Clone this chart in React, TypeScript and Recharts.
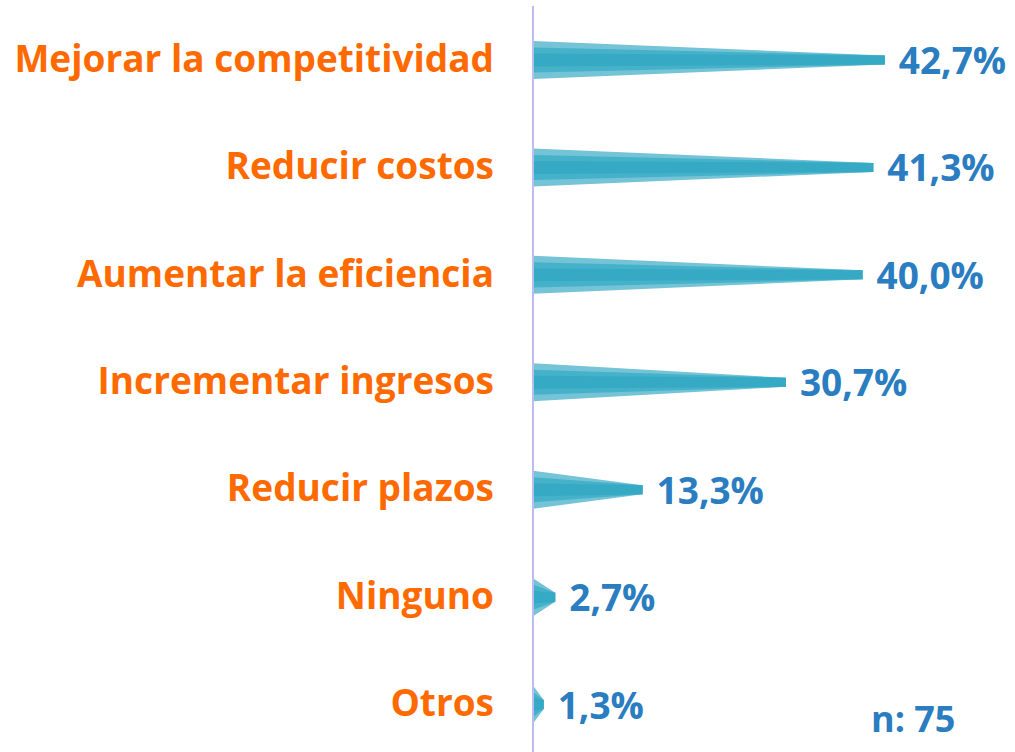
import { BarChart, Bar, XAxis, YAxis, LabelList } from 'recharts';

const categories = [
  'Mejorar la competitividad',
  'Reducir costos',
  'Aumentar la eficiencia',
  'Incrementar ingresos',
  'Reducir plazos',
  'Ninguno',
  'Otros',
];
const values = [42.7, 41.3, 40.0, 30.7, 13.3, 2.7, 1.3];
const sampleNote = 'n: 75';

const data = categories.map((name, i) => ({ name, value: values[i] }));

const FONT = '"Open Sans", sans-serif';
const ORANGE = '#ff6a00';
const BLUE = '#2a7dc0';

const fmt = (v: number) => v.toFixed(1).replace('.', ',') + '%';

// tapered spike with three shaded layers
const Spike = (props: any) => {
  const { x, y, width, height } = props;
  const cy = y + height / 2;
  const tip = 4.5;
  const w = Math.max(width, 0);
  const layer = (half: number, fill: string) => (
    <polygon
      points={`${x},${cy - half} ${x + w},${cy - tip} ${x + w},${cy + tip} ${x},${cy + half}`}
      fill={fill}
    />
  );
  return (
    <g>
      {layer(height / 2, '#74c3d6')}
      {layer(height * 0.33, '#45b2ca')}
      {layer(height * 0.17, '#36aac4')}
    </g>
  );
};

const CategoryTick = (props: any) => {
  const { x, y, payload } = props;
  return (
    <text
      x={x}
      y={y + 12}
      textAnchor="end"
      fill={ORANGE}
      fontFamily={FONT}
      fontWeight={700}
      fontSize={37}
    >
      {payload.value}
    </text>
  );
};

const ValueLabel = (props: any) => {
  const { x, y, width, height, value } = props;
  return (
    <text
      x={x + width + 14}
      y={y + height / 2 + 14}
      fill={BLUE}
      fontFamily={FONT}
      fontWeight={700}
      fontSize={37}
    >
      {fmt(value)}
    </text>
  );
};

export default function App() {
  return (
    <div
      style={{
        position: 'absolute',
        left: 0,
        top: 0,
        width: 1015,
        height: 752,
        overflow: 'hidden',
        background: '#ffffff',
      }}
    >
      <BarChart
        width={1015}
        height={758}
        data={data}
        layout="vertical"
        margin={{ top: 6, right: 0, bottom: 0, left: 0 }}
        barCategoryGap={0}
      >
        <XAxis type="number" domain={[0, 58.5]} hide />
        <YAxis
          type="category"
          dataKey="name"
          width={533}
          axisLine={{ stroke: '#bcbcf0', strokeWidth: 2 }}
          tickLine={false}
          tickMargin={33}
          tick={<CategoryTick />}
          interval={0}
        />
        <Bar dataKey="value" barSize={38} shape={<Spike />} isAnimationActive={false}>
          <LabelList dataKey="value" content={<ValueLabel />} />
        </Bar>
      </BarChart>
      <div
        style={{
          position: 'absolute',
          left: 871,
          top: 694,
          fontFamily: FONT,
          fontWeight: 700,
          fontSize: 36,
          color: BLUE,
          lineHeight: '50px',
        }}
      >
        {sampleNote}
      </div>
    </div>
  );
}
